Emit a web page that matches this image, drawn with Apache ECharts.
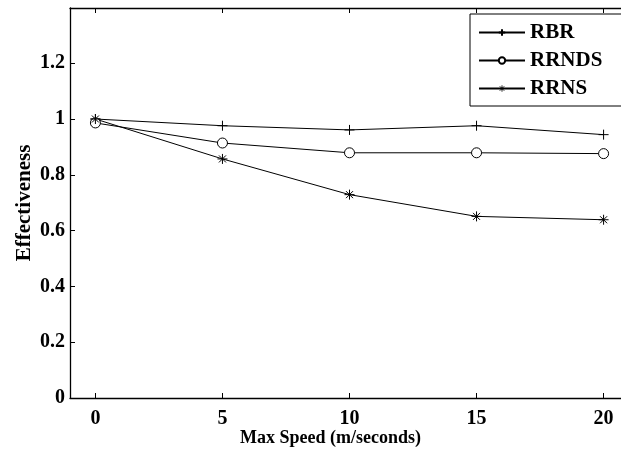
<!DOCTYPE html>
<html><head><meta charset="utf-8">
<script src="https://cdn.jsdelivr.net/npm/echarts@6/dist/echarts.min.js"></script>
<style>html,body{margin:0;padding:0;background:#fff}#c{width:621px;height:449px}</style>
</head><body><div id="c"></div>
<script>
var speeds = [0, 5, 10, 15, 20];
var rbr = [1.0, 0.976, 0.961, 0.976, 0.944];
var rrnds = [0.986, 0.914, 0.879, 0.879, 0.876];
var rrns = [1.0, 0.857, 0.729, 0.651, 0.639];
var seriesNames = ['RBR', 'RRNDS', 'RRNS'];
var xTicks = [0, 5, 10, 15, 20];
var yTicks = [0, 0.2, 0.4, 0.6, 0.8, 1, 1.2];

var FONT = 'Liberation Serif';
var plusPath = 'path://M5 0 L5 10 M0 5 L10 5';
var starPath = 'path://M5 0 L5 10 M0 5 L10 5 M1.5 1.5 L8.5 8.5 M8.5 1.5 L1.5 8.5';

function pairs(ys){ return speeds.map(function(x,i){ return [x, ys[i]]; }); }
function mk(name, ys, sym, size, fill){
  return {
    name: name, type: 'line', data: pairs(ys), symbol: sym, symbolSize: size,
    showAllSymbol: true,
    lineStyle: {color: '#000', width: 1},
    itemStyle: {color: fill, borderColor: '#000', borderWidth: 1},
    emphasis: {disabled: true}, animation: false
  };
}
var chart = echarts.init(document.getElementById('c'), null, {renderer: 'canvas'});
var labelStyle = {fontFamily: FONT, fontWeight: 'bold', fontSize: 20, color: '#000'};
chart.setOption({
  backgroundColor: '#fff',
  animation: false,
  grid: {left: 70, width: 559, top: 8, height: 390, containLabel: false, outerBoundsMode: 'none'},
  legend: {
    data: [
      {name: seriesNames[0]},
      {name: seriesNames[1]},
      {name: seriesNames[2], itemStyle: {color: 'none', borderColor: '#000', borderWidth: 0.85}}
    ],
    orient: 'vertical', left: 470, top: 14,
    itemWidth: 46, itemHeight: 8, itemGap: 7,
    padding: [8, 40, 7, 8],
    borderColor: '#000', borderWidth: 1, backgroundColor: '#fff',
    textStyle: {fontFamily: FONT, fontWeight: 'bold', fontSize: 21, color: '#000'},
    selectedMode: false
  },
  xAxis: [{
    type: 'value', min: -1, max: 21, interval: 1,
    axisLine: {show: true, lineStyle: {color: '#000', width: 1.3}},
    axisTick: {show: true, inside: true, length: 5, lineStyle: {color: '#000'},
      customValues: xTicks},
    axisLabel: Object.assign({margin: 11, customValues: xTicks}, labelStyle),
    splitLine: {show: false},
    name: 'Max Speed (m/seconds)', nameLocation: 'middle', nameGap: 31, nameMoveOverlap: false,
    nameTextStyle: {fontFamily: FONT, fontWeight: 'bold', fontSize: 18, color: '#000', padding: [0, 38, 0, 0]}
  }, {
    type: 'value', min: -1, max: 21, interval: 1, position: 'top',
    axisLine: {show: true, lineStyle: {color: '#000', width: 1.3}},
    axisTick: {show: true, inside: true, length: 5, lineStyle: {color: '#000'}, customValues: xTicks},
    axisLabel: {show: false}, splitLine: {show: false}
  }],
  yAxis: [{
    type: 'value', min: 0, max: 1.398,
    axisLine: {show: true, onZero: false, lineStyle: {color: '#000', width: 1.3}},
    axisTick: {show: true, inside: true, length: 5, lineStyle: {color: '#000'}, customValues: yTicks},
    axisLabel: Object.assign({margin: 5, customValues: yTicks,
      formatter: function(v){ return String(Math.round(v*10)/10); }}, labelStyle),
    splitLine: {show: false},
    name: 'Effectiveness', nameLocation: 'middle', nameGap: 35, nameRotate: 90, nameMoveOverlap: false,
    nameTextStyle: {fontFamily: FONT, fontWeight: 'bold', fontSize: 21, color: '#000'}
  }],
  series: [
    mk('RBR', rbr, plusPath, 10, 'none'),
    mk('RRNDS', rrnds, 'circle', 10, '#fff'),
    mk('RRNS', rrns, starPath, 10, 'none')
  ]
});
</script></body></html>
